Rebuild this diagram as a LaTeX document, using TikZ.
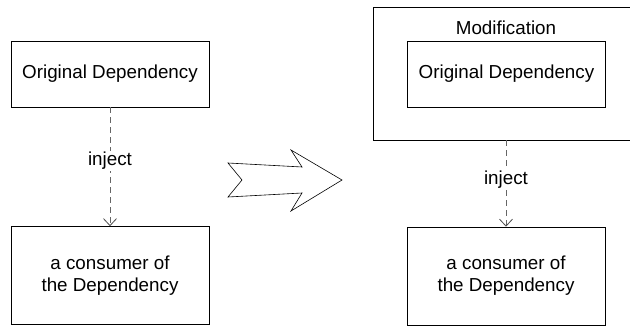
\documentclass[tikz,border=0pt]{standalone}
\usepackage{fontspec}
\setmainfont{Liberation Sans}
\usetikzlibrary{arrows.meta}

\begin{document}
\begin{tikzpicture}[x=1pt,y=-1pt,line width=0.6pt,
depblock/.style={draw,rectangle,inner sep=0pt,minimum width=198pt,minimum height=66pt,font=\fontsize{18.8}{22}\selectfont},
userblock/.style={draw,rectangle,inner sep=0pt,minimum width=198pt,minimum height=98pt,align=center,font=\fontsize{18.8}{22}\selectfont},
wrapblock/.style={rectangle,inner sep=0pt,minimum width=270pt,minimum height=132pt},
injectline/.style={draw=black!60,line width=0.8pt,dash pattern=on 6pt off 4pt,-{Straight Barb[length=7pt,width=13pt,black!70]}},
tag/.style={fill=white,inner sep=1pt,font=\fontsize{18.8}{22}\selectfont}]

\useasboundingbox (0,0) rectangle (630,326);

% before
\draw (110,74) node[depblock] (D1) {Original Dependency};
\draw (110,275.5) node[userblock] (C1) {a consumer of\\the Dependency};
\draw[injectline] (D1.south) -- node[tag,pos=0.45] (I1) {inject} (C1.north);

% big arrow
\draw[line join=miter] (228,163) -- (302,167) -- (291,150) -- (342,180) -- (291,211)
  -- (302,193) -- (228,197) -- (242,180) -- cycle;

% after (wrapper runs off the right edge)
\draw (509,74) node[wrapblock] (M2) {};
\draw (M2.north west -| 630,0) -- (M2.north west) -- (M2.south west) -- (M2.south west -| 630,0);
\draw (506,28) node[font=\fontsize{18.8}{22}\selectfont] (L2) {Modification};
\draw (506.5,74) node[depblock] (D2) {Original Dependency};
\draw (506,276) node[userblock] (C2) {a consumer of\\the Dependency};
\draw[injectline] (C2.north |- M2.south) -- node[tag,pos=0.46] (I2) {inject} (C2.north);

\end{tikzpicture}
\end{document}
